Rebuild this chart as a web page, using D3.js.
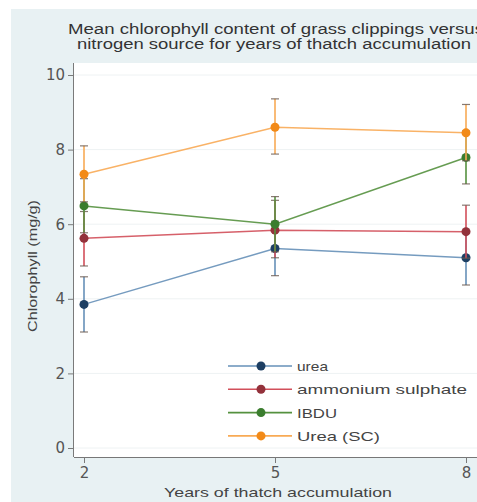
<!DOCTYPE html>
<html><head><meta charset="utf-8">
<script src="https://cdn.jsdelivr.net/npm/d3@7"></script>
<style>body{margin:0;background:#fff;}svg{display:block;font-family:"Liberation Sans",Arial,sans-serif;}</style>
</head><body>
<svg id="c" width="477" height="502"></svg>
<script>
const years = [2, 5, 8];
const seriesNames = ["urea", "ammonium sulphate", "IBDU", "Urea (SC)"];
const ureaMean = [3.85, 5.35, 5.10];
const ureaLow = [3.11, 4.62, 4.37];
const ureaHigh = [4.59, 6.08, 5.83];
const amsMean = [5.62, 5.84, 5.80];
const amsLow = [4.88, 5.10, 5.09];
const amsHigh = [6.34, 6.64, 6.51];
const ibduMean = [6.49, 6.00, 7.79];
const ibduLow = [5.77, 5.26, 7.08];
const ibduHigh = [7.22, 6.74, 8.50];
const scMean = [7.34, 8.60, 8.45];
const scLow = [6.60, 7.88, 7.70];
const scHigh = [8.10, 9.36, 9.21];
const yTicks = [0, 2, 4, 6, 8, 10];
const lineColors = ["#6690b8", "#d24f5a", "#55913f", "#f8aa55"];
const markColors = ["#1d3f63", "#93323b", "#3b7d2e", "#f28a18"];

const series = [
  {mean: ureaMean, lo: ureaLow, hi: ureaHigh},
  {mean: amsMean, lo: amsLow, hi: amsHigh},
  {mean: ibduMean, lo: ibduLow, hi: ibduHigh},
  {mean: scMean, lo: scLow, hi: scHigh}
];

const svg = d3.select("#c");
svg.append("rect").attr("x", 11).attr("y", 9).attr("width", 470).attr("height", 500).attr("fill", "#e8f1f3");
const L = 74, R = 476, T = 63, B = 457;
svg.append("rect").attr("x", L).attr("y", T).attr("width", R - L + 10).attr("height", B - T).attr("fill", "#fff");

const x = d3.scaleLinear().domain([2, 8]).range([84, 466]);
const y = d3.scaleLinear().domain([0, 10]).range([448, 75]);

svg.append("g").selectAll("line").data(yTicks).join("line")
  .attr("x1", L).attr("x2", R + 10).attr("y1", d => y(d)).attr("y2", d => y(d))
  .attr("stroke", "#eef2f3").attr("stroke-width", 1);

const ya = svg.append("g").attr("transform", `translate(${L},0)`)
  .call(d3.axisLeft(y).tickValues(yTicks).tickSize(6).tickPadding(3));
ya.select(".domain").attr("stroke", "#7a7a7a").attr("d", `M-0.5,${T}V${B}`);
ya.selectAll(".tick line").attr("stroke", "#7a7a7a");
ya.selectAll(".tick text").attr("font-size", 15).attr("fill", "#555")
  .attr("font-family", "DejaVu Sans, sans-serif");

const xa = svg.append("g").attr("transform", `translate(0,${B})`)
  .call(d3.axisBottom(x).tickValues(years).tickFormat(d3.format("d")).tickSize(6).tickPadding(4));
xa.select(".domain").attr("stroke", "#777").attr("d", `M${L},0.5H${R + 10}`);
xa.selectAll(".tick line").attr("stroke", "#7a7a7a");
xa.selectAll(".tick text").attr("font-size", 15).attr("fill", "#555")
  .attr("font-family", "DejaVu Sans, sans-serif");

series.forEach((s, i) => {
  const g = svg.append("g");
  const pts = years.map((yr, j) => ({yr, m: s.mean[j], lo: s.lo[j], hi: s.hi[j]}));
  g.append("path").datum(pts)
    .attr("d", d3.line().x(d => x(d.yr)).y(d => y(d.m)))
    .attr("fill", "none").attr("stroke", lineColors[i]).attr("stroke-width", 1.5).attr("opacity", 0.9);
  g.selectAll(".eb").data(pts).join("line")
    .attr("x1", d => x(d.yr)).attr("x2", d => x(d.yr))
    .attr("y1", d => y(d.lo)).attr("y2", d => y(d.hi))
    .attr("stroke", lineColors[i]).attr("stroke-width", 1.6);
  ["lo", "hi"].forEach(k => {
    g.selectAll(".cap" + k).data(pts).join("line")
      .attr("x1", d => x(d.yr) - 4).attr("x2", d => x(d.yr) + 4)
      .attr("y1", d => y(d[k])).attr("y2", d => y(d[k]))
      .attr("stroke", "#6b5a50").attr("stroke-width", 1.2).attr("opacity", 0.8);
  });
  g.selectAll("circle").data(pts).join("circle")
    .attr("cx", d => x(d.yr)).attr("cy", d => y(d.m)).attr("r", 4.5)
    .attr("fill", markColors[i]);
});

const legendWidths = [31, 170, 40, 83];
const lg = svg.append("g");
seriesNames.forEach((n, i) => {
  const yy = 366 + i * 23.3;
  lg.append("line").attr("x1", 228).attr("x2", 292).attr("y1", yy).attr("y2", yy)
    .attr("stroke", lineColors[i]).attr("stroke-width", 1.6);
  lg.append("circle").attr("cx", 261).attr("cy", yy).attr("r", 4.5).attr("fill", markColors[i]);
  lg.append("text").attr("x", 297).attr("y", yy + 5).attr("font-size", 13.5).attr("fill", "#444")
    .attr("textLength", legendWidths[i]).attr("lengthAdjust", "spacingAndGlyphs").text(n);
});

svg.append("text").attr("x", 68).attr("y", 34)
  .attr("font-size", 14).attr("fill", "#333")
  .attr("textLength", 416).attr("lengthAdjust", "spacingAndGlyphs")
  .text("Mean chlorophyll content of grass clippings versus");
svg.append("text").attr("x", 77).attr("y", 49)
  .attr("font-size", 14).attr("fill", "#333")
  .attr("textLength", 394).attr("lengthAdjust", "spacingAndGlyphs")
  .text("nitrogen source for years of thatch accumulation");
svg.append("text").attr("x", 164).attr("y", 497)
  .attr("font-size", 13.5).attr("fill", "#444")
  .attr("textLength", 228).attr("lengthAdjust", "spacingAndGlyphs")
  .text("Years of thatch accumulation");
svg.append("text").attr("transform", `translate(37,332) rotate(-90)`)
  .attr("font-size", 13.5).attr("fill", "#444")
  .attr("textLength", 132).attr("lengthAdjust", "spacingAndGlyphs")
  .text("Chlorophyll (mg/g)");
</script>
</body></html>
